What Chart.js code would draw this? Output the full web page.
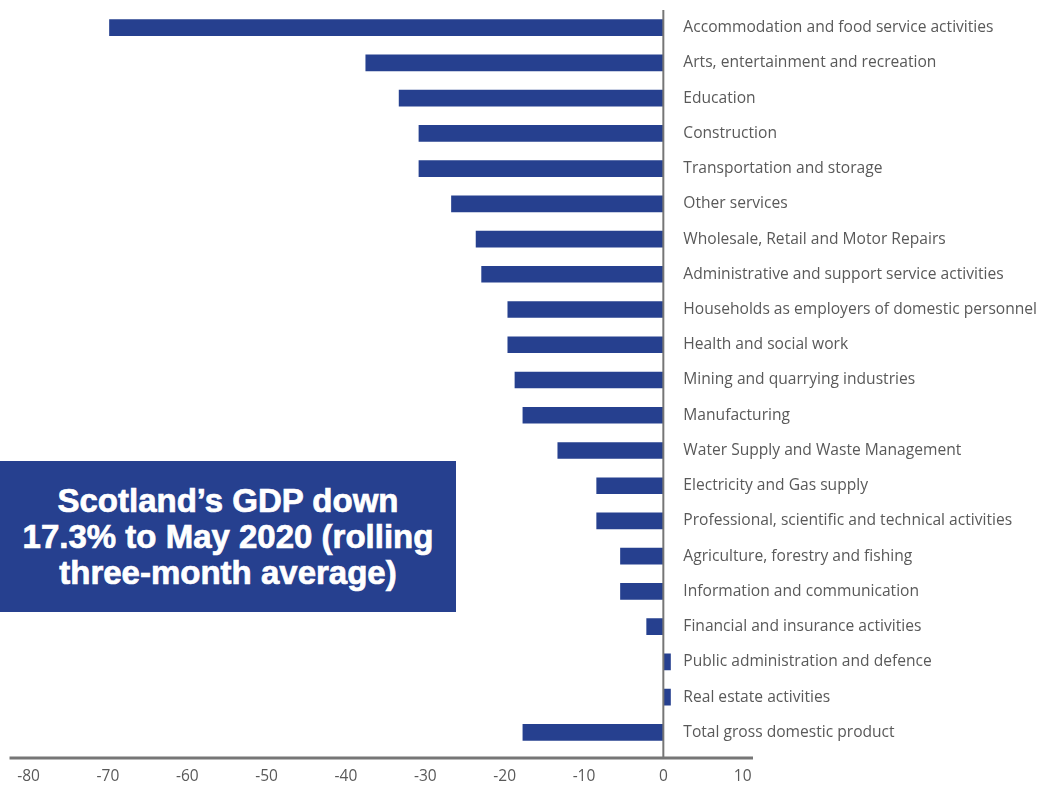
<!DOCTYPE html>
<html lang="en">
<head>
    <meta charset="UTF-8">
    <title>Scotland GDP by industry</title>
    <script src="https://cdn.jsdelivr.net/npm/chart.js"></script>
    <style>
        html, body { margin: 0; padding: 0; background: #fff; }
        .wrap { position: relative; width: 1043px; height: 785px; }
        .note {
            position: absolute; left: 0; top: 461px; width: 456px; height: 151px;
            background: #26408f; color: #fff;
            font: bold 33px "Liberation Sans", Arial, sans-serif;
            -webkit-text-stroke: 0.7px #fff;
            line-height: 36px; text-align: center;
            display: flex; align-items: center; justify-content: center;
        }
    </style>
</head>
<body>
<div class="wrap">
    <canvas id="gdpChart" width="1043" height="785"></canvas>
    <div class="note">Scotland’s GDP down<br>17.3% to May 2020 (rolling<br>three-month average)</div>
</div>

<script>
    const industries = [
        "Accommodation and food service activities",
        "Arts, entertainment and recreation",
        "Education",
        "Construction",
        "Transportation and storage",
        "Other services",
        "Wholesale, Retail and Motor Repairs",
        "Administrative and support service activities",
        "Households as employers of domestic personnel",
        "Health and social work",
        "Mining and quarrying industries",
        "Manufacturing",
        "Water Supply and Waste Management",
        "Electricity and Gas supply",
        "Professional, scientific and technical activities",
        "Agriculture, forestry and fishing",
        "Information and communication",
        "Financial and insurance activities",
        "Public administration and defence",
        "Real estate activities",
        "Total gross domestic product"
    ];
    const changePct = [-69.8, -37.5, -33.3, -30.8, -30.8, -26.7, -23.6, -22.9, -19.6, -19.6,
                       -18.7, -17.7, -13.3, -8.4, -8.4, -5.4, -5.4, -2.1, 0.9, 0.9, -17.7];
    const xTicks = [-80, -70, -60, -50, -40, -30, -20, -10, 0, 10];

    // labels to the right of the zero line, zero line and bottom axis line
    const sideLabels = {
        id: 'sideLabels',
        afterDatasetsDraw(chart) {
            const { ctx, scales: { x, y }, chartArea } = chart;
            const x0 = x.getPixelForValue(0);
            ctx.save();
            ctx.strokeStyle = '#767676';
            ctx.lineWidth = 2;
            ctx.beginPath();
            ctx.moveTo(x0, 10);
            ctx.lineTo(x0, chartArea.bottom + 8);
            ctx.stroke();
            ctx.lineWidth = 3;
            ctx.beginPath();
            ctx.moveTo(chartArea.left, chartArea.bottom + 8);
            ctx.lineTo(chartArea.right, chartArea.bottom + 8);
            ctx.stroke();

            ctx.fillStyle = '#595959';
            ctx.font = '15.6px "Open Sans"';
            ctx.textBaseline = 'middle';
            industries.forEach((name, i) => {
                ctx.fillText(name, x0 + 20, y.getPixelForValue(i));
            });
            ctx.restore();
        }
    };

    new Chart(document.getElementById('gdpChart'), {
        type: 'bar',
        data: {
            labels: industries,
            datasets: [{
                data: changePct,
                backgroundColor: '#26408f',
                barThickness: 16
            }]
        },
        options: {
            indexAxis: 'y',
            responsive: false,
            animation: false,
            layout: { padding: { left: 8, right: 290, top: 10, bottom: 0 } },
            plugins: { legend: { display: false }, tooltip: { enabled: false } },
            scales: {
                x: {
                    min: -82.4,
                    max: 11.3,
                    afterBuildTicks: axis => { axis.ticks = xTicks.map(v => ({ value: v })); },
                    afterFit: axis => { axis.height = 35; },
                    grid: { display: false, drawTicks: false },
                    border: { display: false },
                    ticks: {
                        padding: 17,
                        color: '#595959',
                        font: { family: 'Open Sans', size: 15.5 }
                    }
                },
                y: {
                    display: false,
                    offset: true
                }
            }
        },
        plugins: [sideLabels]
    });
</script>
</body>
</html>
